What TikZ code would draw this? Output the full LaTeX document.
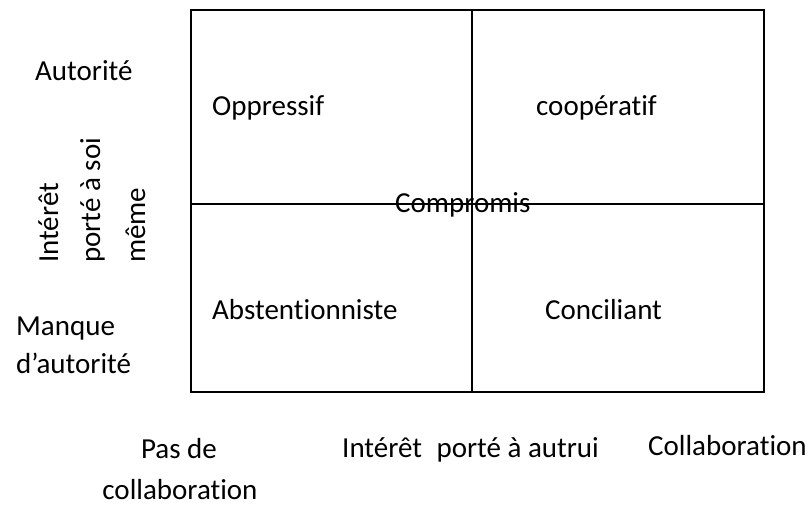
\documentclass[tikz,border=0pt]{standalone}
\usepackage{fontspec}
\setmainfont{Carlito}[Ligatures=NoCommon]
\begin{document}
\begin{tikzpicture}[x=1pt,y=-1pt,
	lbl/.style={inner sep=0pt,anchor=base west,font=\fontsize{29}{34}\selectfont},
	grid line/.style={line width=2pt}]
\useasboundingbox (0,0) rectangle (810,505);

% Quadrant grid
\draw[grid line] (191,10) rectangle (764,392);
\draw[grid line] (472,10) -- (472,392);
\draw[grid line] (191,204) -- (764,204);

% Quadrant labels
\foreach \x/\y/\t/\n in {212/116/Oppressif/opp,536/116/coopératif/coop,212/319/Abstentionniste/abst,545/319/Conciliant/conc,395/212/Compromis/comp}{
	\node[lbl] (\n) at (\x,\y) {\t};
}

% Vertical axis
\node[lbl] (aut) at (35,81) {Autorité};
\node[lbl] (manque) at (16,335) {Manque};
\node[lbl] (dautorite) at (16,373) {d’autorité};
\foreach \x/\t/\n in {58/Intérêt/int,100/porté à soi/soi,145/même/meme}{
	\node[lbl,rotate=90] (\n) at (\x,263) {\t};
}

% Horizontal axis
\node[lbl,anchor=base] (pasde) at (179,458) {Pas de};
\node[lbl,anchor=base] (pascollab) at (180,499) {collaboration};
\node[lbl] (autrui) at (342,457) {Intérêt\hspace{0.5em}porté à autrui};
\node[lbl] (collab) at (648,455) {Collaboration};

\end{tikzpicture}
\end{document}
